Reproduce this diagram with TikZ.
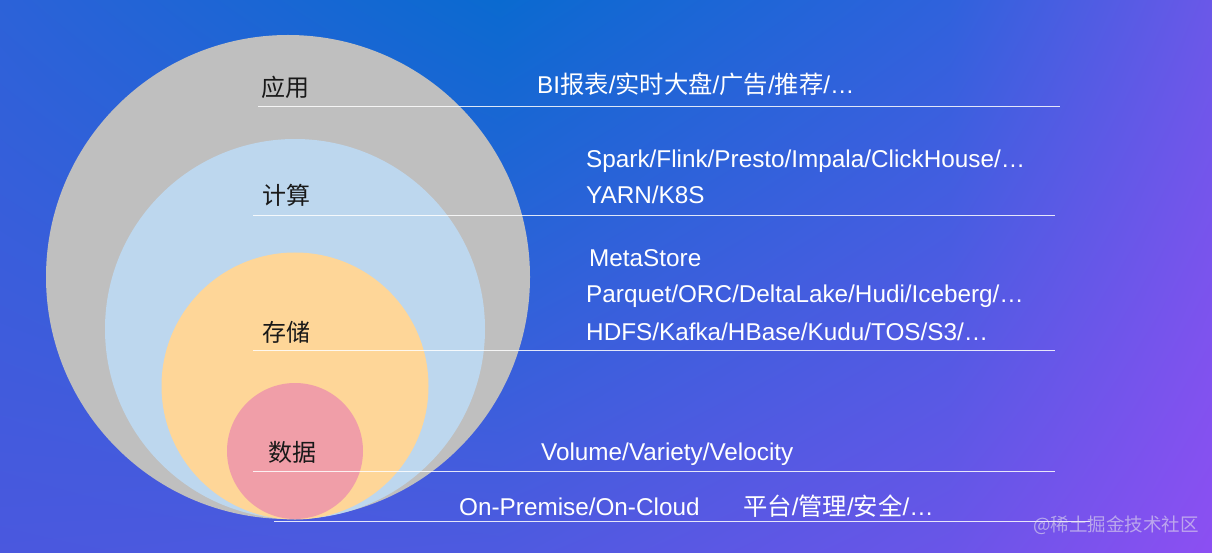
\documentclass[tikz,border=0pt]{standalone}
\usepackage{fontspec}
\usetikzlibrary{shadings}
\setmainfont{Liberation Sans}
\newfontfamily\cjk{Noto Sans CJK SC}
\definecolor{bgA}{HTML}{2C62D8}
\definecolor{bgB}{HTML}{0A6AD0}
\definecolor{bgC}{HTML}{2F62DC}
\definecolor{bgD}{HTML}{6A58E8}
\definecolor{bgE}{HTML}{4A58DE}
\definecolor{bgF}{HTML}{4E5AE0}
\definecolor{bgG}{HTML}{6A55E8}
\definecolor{bgH}{HTML}{8C4FF2}
\definecolor{ringgray}{HTML}{BFBFBF}
\definecolor{ringblue}{HTML}{BDD7EE}
\definecolor{ringorange}{HTML}{FED698}
\definecolor{ringpink}{HTML}{F09EA8}
\begin{document}
\begin{tikzpicture}[x=1pt,y=-1pt,
  ring/.style={circle,draw=none,inner sep=0pt},
  layerlabel/.style={anchor=base west,inner sep=0pt,text=black!90,font=\cjk\fontsize{24}{28}\selectfont},
  desc/.style={anchor=base west,inner sep=0pt,text=white,font=\fontsize{24.3}{28}\selectfont},
  sepline/.style={draw=white,opacity=0.85,line width=0.9pt}]
\useasboundingbox (0,0) rectangle (1212,553);
% background
\shade[upper left=bgA,upper right=bgB,lower left=bgE,lower right=bgF] (0,0) rectangle (500,553);
\shade[upper left=bgB,upper right=bgC,lower left=bgF,lower right=bgG] (500,0) rectangle (950,553);
\shade[upper left=bgC,upper right=bgD,lower left=bgG,lower right=bgH] (950,0) rectangle (1212,553);
% rings
\node[ring,fill=ringgray,minimum size=484pt] (app) at (288,277) {};
\node[ring,fill=ringblue,minimum size=380pt] (comp) at (295,329) {};
\node[ring,fill=ringorange,minimum size=267pt] (stor) at (295,386) {};
\node[ring,fill=ringpink,minimum size=136pt] (data) at (295,451) {};
% separator lines
\coordinate (l1a) at (258,106); \coordinate (l1b) at (1060,106);
\coordinate (l2a) at (253,215); \coordinate (l2b) at (1055,215);
\coordinate (l3a) at (253,350); \coordinate (l3b) at (1055,350);
\coordinate (l4a) at (253,471); \coordinate (l4b) at (1055,471);
\coordinate (l5a) at (274,521); \coordinate (l5b) at (1090,521);
\draw[sepline] (l1a) -- (l1b);
\draw[sepline] (l2a) -- (l2b);
\draw[sepline] (l3a) -- (l3b);
\draw[sepline] (l4a) -- (l4b);
\draw[sepline] (l5a) -- (l5b);
% layer labels
\node[layerlabel] (tapp) at (261,97) {应用};
\node[layerlabel] (tcomp) at (262,205) {计算};
\node[layerlabel] (tstor) at (262,341) {存储};
\node[layerlabel] (tdata) at (268,461) {数据};
% descriptions
\node[desc] (dapp) at (537,94) {BI{\cjk 报表}/{\cjk 实时大盘}/{\cjk 广告}/{\cjk 推荐}/…};
\node[desc] (dspark) at (586,168) {Spark/Flink/Presto/Impala/ClickHouse/…};
\node[desc] (dyarn) at (586,204) {YARN/K8S};
\node[desc] (dmeta) at (589,267) {MetaStore};
\node[desc] (dparq) at (586,302) {Parquet/ORC/DeltaLake/Hudi/Iceberg/…};
\node[desc] (dhdfs) at (586,340) {HDFS/Kafka/HBase/Kudu/TOS/S3/…};
\node[desc] (dvol) at (541,460) {Volume/Variety/Velocity};
\node[desc] (donp) at (459,515) {On-Premise/On-Cloud};
\node[desc] (dplat) at (743,515) {{\cjk 平台}/{\cjk 管理}/{\cjk 安全}/…};
% watermark
\node[anchor=base west,inner sep=0pt,text=white!85!gray,opacity=0.55,font=\cjk\fontsize{18.5}{22}\selectfont] (wm) at (1033,531) {@稀土掘金技术社区};
\end{tikzpicture}
\end{document}
